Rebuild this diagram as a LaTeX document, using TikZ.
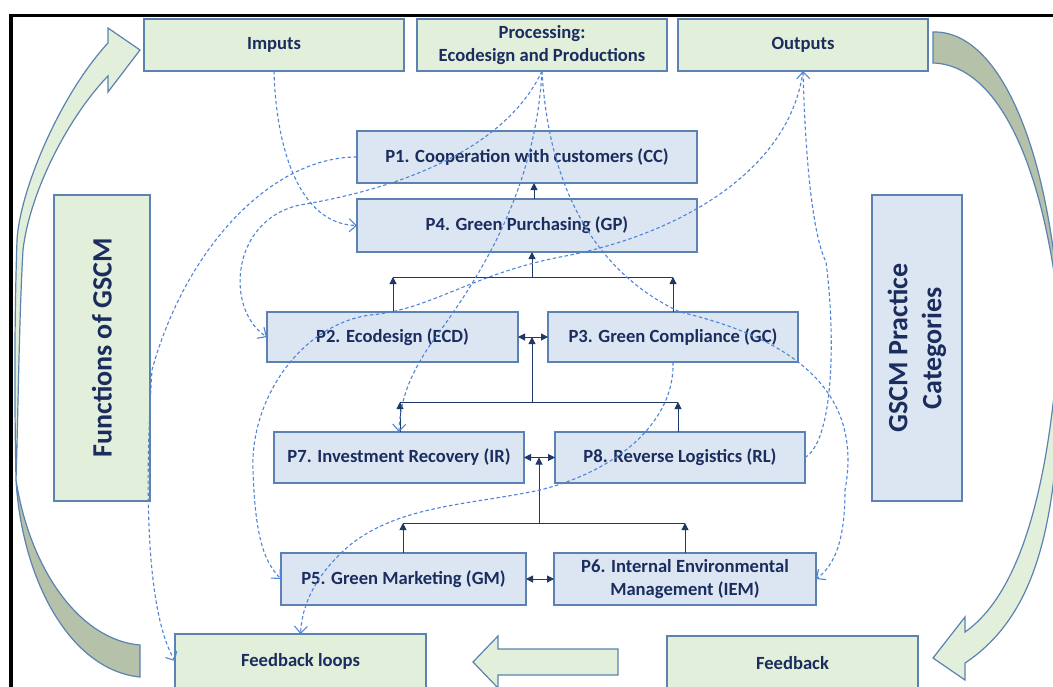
\documentclass[tikz,border=0pt]{standalone}
\usepackage{fontspec}
\setmainfont{Carlito}
\usetikzlibrary{arrows.meta,calc}
\definecolor{boxgreen}{HTML}{E2EFDA}
\definecolor{boxblue}{HTML}{DCE6F2}
\definecolor{edge}{HTML}{5B82B0}
\definecolor{ink}{HTML}{1B2D5E}
\definecolor{navy}{HTML}{1F3864}
\definecolor{flowblue}{HTML}{4F84DA}
\definecolor{backface}{HTML}{B5C1A9}

\begin{document}
\begin{tikzpicture}[x=1pt,y=-1pt,
  box/.style={draw=edge, line width=1.2pt, inner sep=0pt, outer sep=0pt,
    align=center, text=ink, font=\fontsize{18.6}{23}\selectfont\bfseries},
  gbox/.style={box, fill=boxgreen},
  bbox/.style={box, fill=boxblue},
  bigarrow/.style={draw=edge, line width=1.2pt, line join=miter},
  tree/.style={draw=navy, line width=1pt},
  up/.style={tree, -{Triangle[length=7pt,width=7pt]}},
  both/.style={tree, {Triangle[length=7pt,width=7pt]}-{Triangle[length=7pt,width=7pt]}},
  flow/.style={draw=flowblue, line width=1.1pt, dash pattern=on 3.5pt off 2.5pt,
    -{Straight Barb[length=7pt,width=13pt,line width=1.1pt]}}
]
\useasboundingbox (0,0) rectangle (1053,686);
\fill[white] (0,0) rectangle (1053,686);
\clip (0,0) rectangle (1053,686);

% curved arrow on the left: back face, then front face with head
\draw[bigarrow, fill=backface] (16,480) .. controls (22,580) and (70,670) .. (140,677)
  -- (140,645) .. controls (80,640) and (30,570) .. (16,480) -- cycle;
\draw[bigarrow, fill=boxgreen] (16,480) .. controls (14,380) and (15,300) .. (17,240)
  .. controls (20,190) and (60,95) .. (108,43) -- (108,28) -- (140,50) -- (108,92) -- (108,76)
  .. controls (70,115) and (30,190) .. (23,250) .. controls (19,320) and (18,420) .. (16,480) -- cycle;

% curved arrow on the right
\draw[bigarrow, fill=backface] (933,32) .. controls (1000,30) and (1050,150) .. (1060,320)
  .. controls (1045,170) and (1000,65) .. (933,63) -- cycle;
\draw[bigarrow, fill=boxgreen] (1060,320) .. controls (1062,500) and (1045,610) .. (965,663)
  -- (965,680) -- (933,658) -- (965,617) -- (965,632)
  .. controls (1025,590) and (1052,470) .. (1060,320) -- cycle;

% straight arrow between the feedback boxes
\draw[bigarrow, fill=boxgreen] (473,662) -- (498,636) -- (498,649) -- (618,649)
  -- (618,675) -- (498,675) -- (498,688) -- cycle;

% top row
\node[gbox, minimum width=260pt, minimum height=52pt] (inp) at (274,45) {Imputs};
\node[gbox, minimum width=250pt, minimum height=52pt] (proc) at (542,45) {Processing:\\Ecodesign and Productions};
\node[gbox, minimum width=250pt, minimum height=52pt] (outp) at (803,45) {Outputs};

% side panels
\node[gbox, minimum width=96pt, minimum height=306pt] (func) at (102,348) {};
\node[rotate=90, text=ink, font=\fontsize{28}{32}\selectfont\bfseries] (functxt) at (func.center) {Functions of GSCM};
\node[bbox, minimum width=90pt, minimum height=306pt] (cat) at (917,348) {};
\node[rotate=90, align=center, text=ink, font=\fontsize{28}{34}\selectfont\bfseries] (cattxt) at (cat.center) {GSCM Practice\\Categories};

% practice boxes
\node[bbox, minimum width=340pt, minimum height=52pt] (p1) at (527,157) {P1. Cooperation with customers (CC)};
\node[bbox, minimum width=340pt, minimum height=53pt] (p4) at (527,225.5) {P4. Green Purchasing (GP)};
\node[bbox, minimum width=251pt, minimum height=50pt] (p2) at (392.5,337) {P2. Ecodesign (ECD)};
\node[bbox, minimum width=250pt, minimum height=50pt] (p3) at (673,337) {P3. Green Compliance (GC)};
\node[bbox, minimum width=250pt, minimum height=51pt] (p7) at (399,457.5) {P7. Investment Recovery (IR)};
\node[bbox, minimum width=250pt, minimum height=51pt] (p8) at (680,457.5) {P8. Reverse Logistics (RL)};
\node[bbox, minimum width=245pt, minimum height=52pt] (p5) at (403.5,579) {P5. Green Marketing (GM)};
\node[bbox, minimum width=262pt, minimum height=52pt] (p6) at (685,579) {P6. Internal Environmental\\Management (IEM)};

% bottom row
\node[gbox, minimum width=251pt, minimum height=54pt] (fbl) at (300.5,661) {Feedback loops};
\node[gbox, minimum width=251pt, minimum height=54pt] (fb) at (792.5,663) {Feedback};

% hierarchy connectors
\coordinate (c14) at (534,0);
\draw[up] (p4.north -| c14) -- (p1.south -| c14);

\coordinate (h1a) at (393,277);
\coordinate (h1m) at (532,277);
\coordinate (h1b) at (673,277);
\draw[tree] (h1a) -- (h1b);
\draw[up] (p2.north -| h1a) -- (h1a);
\draw[up] (p3.north -| h1b) -- (h1b);
\draw[up] (h1m) -- (p4.south -| h1m);

\coordinate (h2a) at (400,402);
\coordinate (h2m) at (532,402);
\coordinate (h2b) at (678,402);
\draw[both] (p2.east) -- (p3.west);
\draw[tree] (h2a) -- (h2b);
\draw[up] (p7.north -| h2a) -- (h2a);
\draw[up] (p8.north -| h2b) -- (h2b);
\draw[up] (h2m) -- (h2m |- p2.east);

\coordinate (h3a) at (403,523);
\coordinate (h3m) at (539,523);
\coordinate (h3b) at (685,523);
\draw[both] (p7.east) -- (p8.west);
\draw[tree] (h3a) -- (h3b);
\draw[up] (p5.north -| h3a) -- (h3a);
\draw[up] (p6.north -| h3b) -- (h3b);
\draw[up] (h3m) -- (h3m |- p7.east);
\draw[both] (p5.east) -- (p6.west);

% flows between functions and practices
\draw[flow] (inp.south) .. controls (276,150) and (300,224) .. (p4.west);
\draw[flow] (proc.south) .. controls (510,140) and (420,185) .. (300,205)
  .. controls (230,220) and (225,310) .. (p2.west);
\draw[flow] (proc.south) .. controls (535,200) and (470,290) .. (430,345)
  .. controls (410,375) and (400,400) .. (p7.north);
\draw[flow] (proc.south) .. controls (548,180) and (590,270) .. (680,312)
  .. controls (820,345) and (860,410) .. (845,490)
  .. controls (845,540) and (835,565) .. (p6.east);
\draw[flow] (p1.west) .. controls (270,157) and (185,250) .. (152,370)
  .. controls (145,480) and (145,610) .. (fbl.west);
\draw[flow] (outp.south) .. controls (790,170) and (680,235) .. (560,257)
  .. controls (470,275) and (430,310) .. (370,315)
  .. controls (300,325) and (250,400) .. (253,470)
  .. controls (255,530) and (262,560) .. (p5.west);
\draw[flow] (p8.east) .. controls (835,440) and (835,330) .. (826,262)
  .. controls (815,240) and (806,180) .. (outp.south);
\draw[flow] (p3.south) .. controls (675,420) and (620,470) .. (540,490)
  .. controls (470,505) and (400,505) .. (350,545)
  .. controls (315,575) and (302,605) .. (fbl.north);

% frame
\draw[black, line width=3.5pt] (11,15.5) rectangle (1075,710);
\end{tikzpicture}
\end{document}
